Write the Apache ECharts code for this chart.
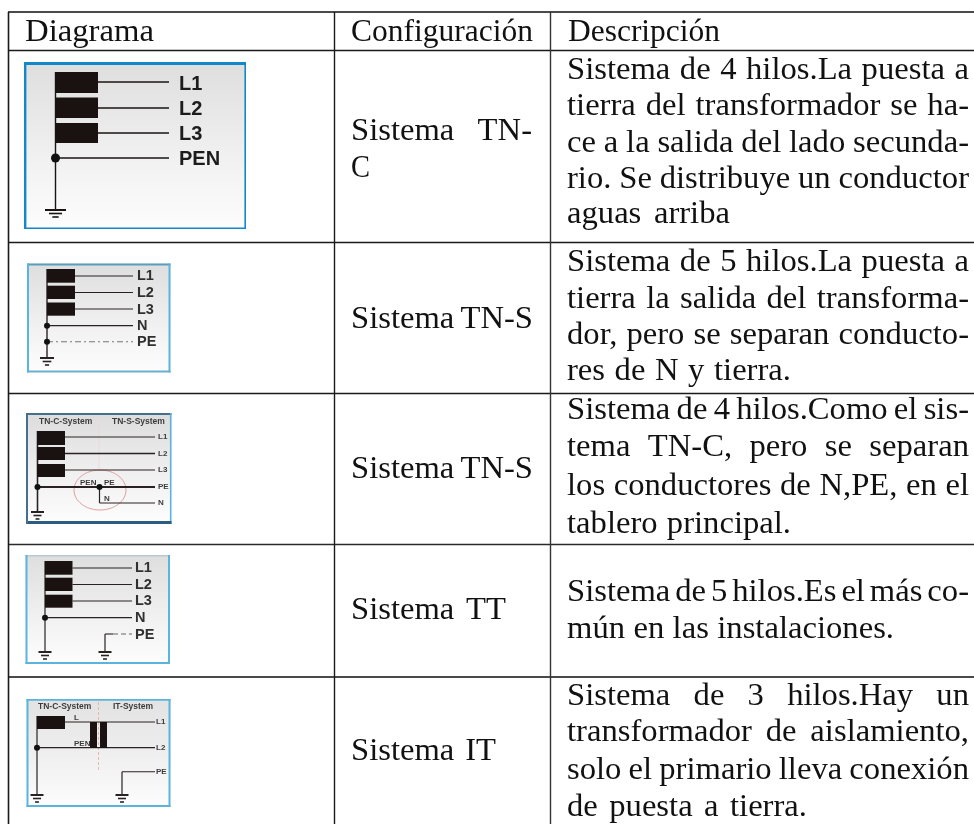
<!DOCTYPE html>
<html><head><meta charset="utf-8">
<style>html,body{margin:0;padding:0;background:#fff}#c{width:974px;height:824px}</style>
<script src="https://cdn.jsdelivr.net/npm/echarts@6/dist/echarts.min.js"></script>
</head><body><div id="c"></div>
<script>
// ---- table text ----
const headers = ["Diagrama", "Configuración", "Descripción"];
const configLines = [["Sistema TN-", "C"], ["Sistema TN-S"], ["Sistema TN-S"], ["Sistema TT"], ["Sistema IT"]];
const descLines = [
  ["Sistema de 4 hilos.La puesta a", "tierra del transformador se ha-", "ce a la salida del lado secunda-", "rio. Se distribuye un conductor", "aguas arriba"],
  ["Sistema de 5 hilos.La puesta a", "tierra la salida del transforma-", "dor, pero se separan conducto-", "res de N y tierra."],
  ["Sistema de 4 hilos.Como el sis-", "tema TN-C, pero se separan", "los conductores de N,PE, en el", "tablero principal."],
  ["Sistema de 5 hilos.Es el más co-", "mún en las instalaciones."],
  ["Sistema de 3 hilos.Hay un", "transformador de aislamiento,", "solo el primario lleva conexión", "de puesta a tierra."]
];
// ---- table layout ----
const ruleYs = [[12,"#4a4a4a",2],[50.5,"#1a1a1a",1.4],[242.5,"#1a1a1a",1.4],[393.5,"#1a1a1a",1.6],[544.5,"#2a2a2a",1.6],[677,"#4a4a4a",2]];
const ruleXs = [[8.5,"#1a1a1a",1.6],[334.5,"#1a1a1a",1.4],[550.5,"#333",1.4]];
const headerPos = [[25,154,42],[351,533,42],[568,720,42]];
const configPos = [[[351,532,141],[351,370,178]],[[351,533,329]],[[351,533,479]],[[351,506,620]],[[351,496,761]]];
const descBase = [[80,116,153,189,224],[272,309,345,381],[420,457,496,534],[602,639],[706,742,780,817]];
const descEnd = [[969,969,969,969,730],[969,969,969,791],[969,969,969,791],[969,894],[969,969,969,807]];
const descX = 567, bodyFont = 32, serif = '"Liberation Serif"';
// ---- diagrams: [x0,y0,x1,y1]
const ground = (x,y,w)=>[[x-w,y,x+w,y,2],[x-w*0.62,y+3.5,x+w*0.62,y+3.5,1.6],[x-w*0.3,y+7,x+w*0.3,y+7,1.6]];
const diagrams = [
 {box:[24,62,246,229], border:["#1288c8","#1288c8","#1288c8","#1288c8"], bw:[3,1.6,1.6,2.4], bg:"#dedede",
  bars:[[55,72,98,93],[55,97.5,98,118],[55,123,98,143]],
  lines:[[98,82,169,82,1.6],[98,108,169,108,1.6],[98,133,169,133,1.6],[55,158,169,158,1.4],[55.5,72,55.5,210,1.4],...ground(55.5,210,10.5)],
  dots:[[55.5,158,4.5]], col:"#1a1414",
  labels:[["L1",179,84,20],["L2",179,109,20],["L3",179,134,20],["PEN",179,159,20]]},
 {box:[27,263.5,170.5,372.5], border:["#5a9ec0","#5ab4dc","#6aaed0","#5ab4dc"], bw:[2,2,2,2], bg:"#dedede",
  bars:[[47,269,75,282.7],[47,285.7,75,299],[47,302.5,75,315.7]],
  lines:[[75,276,133,276,1.2],[75,292.5,133,292.5,1.2],[75,309,133,309,1.2],[47,325.7,133,325.7,1.2],[47,269,47,358,1.4],...ground(47,358,7)],
  dashes:[[47,341.7,133,341.7,1.1,[6,3,2,3],"#777"]],
  dots:[[47,325.7,3],[47,341.7,3]], col:"#2a2222",
  labels:[["L1",137,276,14.5],["L2",137,293,14.5],["L3",137,310,14.5],["N",137,326,14.5],["PE",137,342,14.5]]},
 {box:[26,413,171.5,524], border:["#44708c","#5ab4dc","#2c5c80","#44708c"], bw:[2,1.6,3,2], bg:"#dcdcdc",
  bars:[[37,431,65,445],[37,447,65,460],[37,464,65,477]],
  lines:[[65,437,155,437,1.2],[65,453.5,155,453.5,1.6],[65,470,155,470,1.2],[37,487,155,487,1.8],[37.5,431,37.5,512,1.6],[99.5,487,99.5,503,1.2],[99.5,503,155,503,1],...ground(37.5,512,6.5)],
  dashes:[[99,413,99,470,0.8,[],"#ead8d8"]],
  ellipse:[100,490,26,20,"#dfa0a0"],
  dots:[[37.5,487,3],[99.5,487,3]], col:"#2a2222",
  labels:[["TN-C-System",39,422,8.5],["TN-S-System",112,422,8.5],["L1",158,437,8],["L2",158,454,8],["L3",158,470,8],["PE",158,487,8],["N",158,503,8],["PEN",80,483,8],["PE",104,483,8],["N",104,499,8]]},
 {box:[25.5,555,170,664], border:["#b8c8d0","#5ab4dc","#5ab4dc","#5ab4dc"], bw:[1.4,2,2,2], bg:"#dedede",
  bars:[[45,561,72.5,574.7],[45,577.7,72.5,591],[45,594.7,72.5,607.7]],
  lines:[[72.5,568,132,568,1.2],[72.5,584.5,132,584.5,1.2],[72.5,601,132,601,1.2],[45,617.7,132,617.7,1.2],[45,561,45,652,1.2],[105,634,105,652,1.2],[105,634,113,634,1.1],...ground(45,652,6.5),...ground(105,652,6.5)],
  dashes:[[113,634,132,634,1.1,[5,3],"#666"]],
  dots:[[45,617.7,3]], col:"#2a2222",
  labels:[["L1",135,568,14.5],["L2",135,585,14.5],["L3",135,601,14.5],["N",135,618,14.5],["PE",135,635,14.5]]},
 {box:[26.5,699,170.5,807], border:["#5ab4dc","#5ab4dc","#5ab4dc","#5ab4dc"], bw:[1.8,2,2,2], bg:"#e2e2e2",
  bars:[[37,716,65,729],[90,722,97,748],[100,722,107,748]],
  lines:[[65,722,155,722,1.2],[37,747.7,155,747.7,1.2],[37,716,37,795,1.2],[122,771.7,155,771.7,1.1],[122,771.7,122,795,1.2],...ground(37,795,6.5),...ground(122,795,6.5)],
  dashes:[[98.5,702,98.5,770,0.9,[3,2],"#e0b0a8"]],
  dots:[[37,747.7,3]], col:"#2a2222",
  labels:[["TN-C-System",38,707,8.5],["IT-System",113,707,8.5],["L",74,718,8],["PEN",74,744,8],["L1",156,722,8],["L2",156,748,8],["PE",156,772,8]]}
];

// ---- build text word placement ----
const ctx = document.createElement('canvas').getContext('2d');
function placeWords(text,x0,x1,base,out){
  ctx.font = bodyFont+'px '+serif;
  const words = text.split(' ');
  const ws = words.map(w=>ctx.measureText(w).width);
  const sum = ws.reduce((a,b)=>a+b,0), n = words.length-1;
  let sc = 1.02;
  const minGap = bodyFont*0.13;
  if(n>0){ if(sum*sc+n*minGap>x1-x0) sc=(x1-x0-n*minGap)/sum; }
  else sc=(x1-x0)/sum;
  const gap = n>0?(x1-x0-sum*sc)/n:0;
  let x=x0;
  words.forEach((w,i)=>{ out.push({type:'w',t:w,x,y:base,sc}); x+=ws[i]*sc+gap; });
}
const prims = [];
// rules
ruleYs.forEach(r=>prims.push({type:'l',x0:8,x1:974,y0:r[0],y1:r[0],c:r[1],w:r[2]}));
ruleXs.forEach(r=>prims.push({type:'l',x0:r[0],x1:r[0],y0:12,y1:824,c:r[1],w:r[2]}));
// text
headers.forEach((h,i)=>placeWords(h,headerPos[i][0],headerPos[i][1],headerPos[i][2],prims));
configLines.forEach((ls,i)=>ls.forEach((t,j)=>placeWords(t,configPos[i][j][0],configPos[i][j][1],configPos[i][j][2],prims)));
descLines.forEach((ls,i)=>ls.forEach((t,j)=>placeWords(t,descX,descEnd[i][j],descBase[i][j],prims)));
// diagrams
diagrams.forEach(d=>{
  const [a,b,c,e]=d.box;
  prims.push({type:'r',x0:a,y0:b,x1:c,y1:e,grad:d.bg});
  if(d.ellipse) prims.push({type:'e',v:d.ellipse});
  (d.dashes||[]).forEach(l=>prims.push({type:'l',x0:l[0],y0:l[1],x1:l[2],y1:l[3],w:l[4],dash:l[5],c:l[6]}));
  d.lines.forEach(l=>prims.push({type:'l',x0:l[0],y0:l[1],x1:l[2],y1:l[3],w:l[4],c:d.col}));
  d.bars.forEach(r=>prims.push({type:'r',x0:r[0],y0:r[1],x1:r[2],y1:r[3],fill:"#1a1210"}));
  d.dots.forEach(o=>prims.push({type:'o',x:o[0],y:o[1],r:o[2],c:"#111"}));
  d.labels.forEach(l=>prims.push({type:'t',t:l[0],x:l[1],y:l[2],s:l[3],c:l[3]<10?"#3c3c3c":(l[3]<16?"#303030":"#1c1c1c")}));
  // box borders
  const bc=d.border,bw=d.bw;
  prims.push({type:'r',x0:a,y0:b,x1:c,y1:b+bw[0],fill:bc[0]});
  prims.push({type:'r',x0:c-bw[1],y0:b,x1:c,y1:e,fill:bc[1]});
  prims.push({type:'r',x0:a,y0:e-bw[2],x1:c,y1:e,fill:bc[2]});
  prims.push({type:'r',x0:a,y0:b,x1:a+bw[3],y1:e,fill:bc[3]});
});

function renderItem(params,api){
  const p=prims[params.dataIndex];
  if(p.type==='l'){
    const s=api.coord([p.x0,p.y0]),t=api.coord([p.x1,p.y1]);
    return {type:'line',shape:{x1:s[0],y1:s[1],x2:t[0],y2:t[1]},style:{stroke:p.c,lineWidth:p.w,lineDash:p.dash&&p.dash.length?p.dash:null}};
  }
  if(p.type==='r'){
    const s=api.coord([p.x0,p.y0]),t=api.coord([p.x1,p.y1]);
    const fill=p.grad?new echarts.graphic.LinearGradient(0,0,0,1,[{offset:0,color:p.grad},{offset:0.55,color:"#f0f0f0"},{offset:1,color:"#fdfdfd"}]):p.fill;
    return {type:'rect',shape:{x:s[0],y:s[1],width:t[0]-s[0],height:t[1]-s[1]},style:{fill}};
  }
  if(p.type==='o'){
    const s=api.coord([p.x,p.y]);
    return {type:'circle',shape:{cx:s[0],cy:s[1],r:p.r},style:{fill:p.c}};
  }
  if(p.type==='e'){
    const s=api.coord([p.v[0],p.v[1]]);
    return {type:'ellipse',shape:{cx:s[0],cy:s[1],rx:p.v[2],ry:p.v[3]},style:{fill:'none',stroke:p.v[4],lineWidth:1}};
  }
  if(p.type==='t'){
    const s=api.coord([p.x,p.y]);
    return {type:'text',x:s[0],y:s[1],style:{text:p.t,x:0,y:0,fill:p.c,font:'bold '+p.s+'px "Liberation Sans"',textAlign:'left',textVerticalAlign:'middle'}};
  }
  // serif word: p.y is baseline
  const s=api.coord([p.x,p.y]);
  return {type:'text',x:s[0],y:s[1]-bodyFont*0.29,scaleX:p.sc,style:{text:p.t,x:0,y:0,fill:"#111",font:bodyFont+'px '+serif,textAlign:'left',textVerticalAlign:'middle'}};
}

const chart=echarts.init(document.getElementById('c'),null,{renderer:'canvas'});
chart.setOption({
  animation:false,
  backgroundColor:'#fff',
  grid:{left:0,right:0,top:0,bottom:0},
  xAxis:{type:'value',min:0,max:974,show:false},
  yAxis:{type:'value',min:0,max:824,inverse:true,show:false},
  tooltip:{show:false},
  series:[{type:'custom',coordinateSystem:'cartesian2d',clip:false,silent:true,
    encode:{x:0,y:1},
    renderItem,data:prims.map((p,i)=>[p.x0!==undefined?p.x0:(p.x||0),p.y0!==undefined?p.y0:(p.y||0)])}]
});
</script></body></html>
